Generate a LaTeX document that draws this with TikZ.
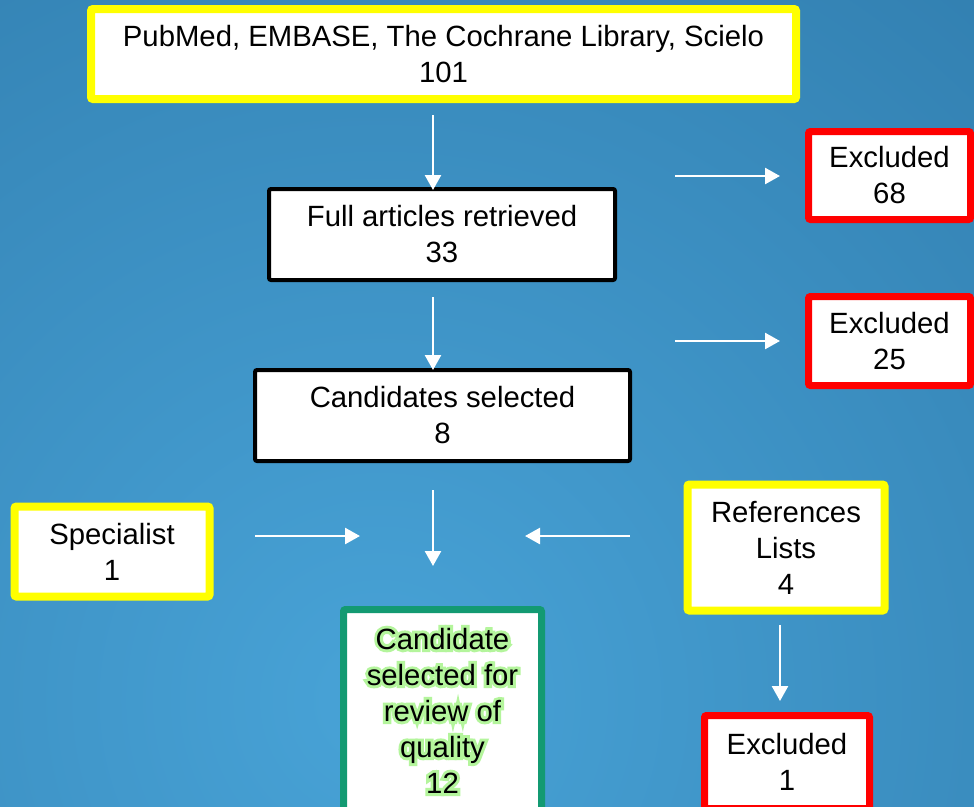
\documentclass[tikz,border=0pt]{standalone}
\usepackage{fontspec}
\setmainfont{Liberation Sans}
\newfontface\glowface[FakeBold=20]{Liberation Sans}
\usetikzlibrary{arrows.meta}
\definecolor{bginner}{HTML}{48A3D7}
\definecolor{bgouter}{HTML}{1C5C8A}
\definecolor{ylw}{HTML}{FFFF00}
\definecolor{rd}{HTML}{FF0000}
\definecolor{grn}{HTML}{139A72}
\definecolor{glow}{HTML}{B4F59C}
\tikzset{
  box/.style={draw, fill=white, rounded corners=2pt, align=center, inner sep=0pt,
    font=\fontsize{29.3}{36}\selectfont},
  ybox/.style={box, draw=ylw, line width=8pt},
  kbox/.style={box, draw=black, line width=4pt},
  rbox/.style={box, draw=rd, line width=7pt},
  gbox/.style={box, draw=grn, line width=7pt},
  arr/.style={draw=white, line width=2.5pt, -{Triangle[length=15pt,width=16pt]}},
  gtxt/.style={align=center, inner sep=0pt, font=\fontsize{29.3}{36}\selectfont},
}
\newcommand{\candtext}{Candidate\\selected for\\review of\\quality\\12}
\begin{document}
\begin{tikzpicture}[x=1pt,y=-1pt]
  \useasboundingbox (0,0) rectangle (974,806);
  \begin{scope}
    \clip (0,0) rectangle (974,806);
    \fill[bgouter] (0,0) rectangle (974,806);
    \shade[inner color=bginner, outer color=bgouter] (380,700) circle (1900);
  \end{scope}

  % boxes
  \node[ybox, minimum width=705pt, minimum height=90pt] (src) at (443.5,54)
    {PubMed, EMBASE, The Cochrane Library, Scielo\\101};
  \node[kbox, minimum width=346pt, minimum height=91pt] (full) at (442,234.5)
    {Full articles retrieved\\33};
  \node[kbox, minimum width=375pt, minimum height=91pt] (cand) at (442.5,415.5)
    {Candidates selected\\8};
  \node[rbox, minimum width=162pt, minimum height=88pt] (ex1) at (889.5,175.5)
    {Excluded\\68};
  \node[rbox, minimum width=162pt, minimum height=89pt] (ex2) at (889.5,341)
    {Excluded\\25};
  \node[ybox, minimum width=195pt, minimum height=90pt] (spec) at (112,551.5)
    {Specialist\\1};
  \node[ybox, minimum width=197pt, minimum height=126pt] (refs) at (786,547.5)
    {References\\Lists\\4};
  \node[rbox, minimum width=165pt, minimum height=93pt] (ex3) at (787,762)
    {Excluded\\1};
  \node[gbox, minimum width=198pt, minimum height=202pt] (final) at (442.5,710.5) {};
  % glowing text: thick stroked copy underneath, plain text on top
  \node[gtxt, text=glow, font=\glowface\fontsize{29.3}{36}\selectfont] (finalglow) at (final.center) {\candtext};
  \node[gtxt] (finaltext) at (final.center) {\candtext};

  % arrow coordinates
  \coordinate (a1s) at (433,115);  \coordinate (a1e) at (433,190);
  \coordinate (a2s) at (675,176);  \coordinate (a2e) at (780,176);
  \coordinate (a3s) at (433,297);  \coordinate (a3e) at (433,370);
  \coordinate (a4s) at (675,341);  \coordinate (a4e) at (780,341);
  \coordinate (a5s) at (433,490);  \coordinate (a5e) at (433,566);
  \coordinate (a6s) at (255,536);  \coordinate (a6e) at (360,536);
  \coordinate (a7s) at (630,536);  \coordinate (a7e) at (525,536);
  \coordinate (a8s) at (780,625);  \coordinate (a8e) at (780,701);
  \foreach \i in {1,...,8} \draw[arr] (a\i s) -- (a\i e);
\end{tikzpicture}
\end{document}
